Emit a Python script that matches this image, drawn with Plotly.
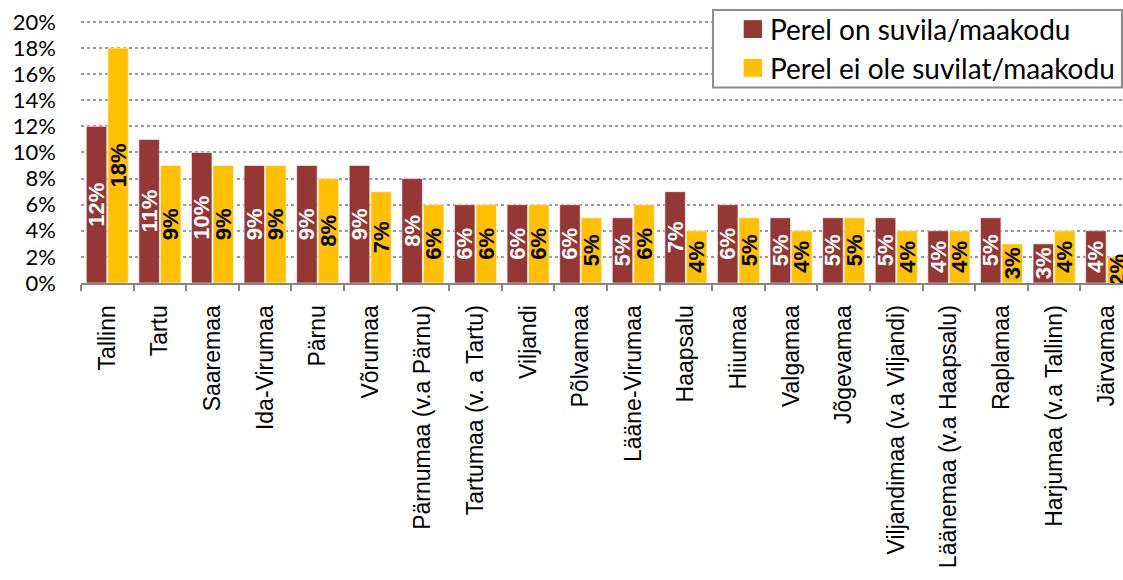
import plotly.graph_objects as go

# Regions and shares (%) of respondents
REGIONS = [
    'Tallinn', 'Tartu', 'Saaremaa', 'Ida-Virumaa', 'Pärnu', 'Võrumaa',
    'Pärnumaa (v.a Pärnu)', 'Tartumaa (v. a Tartu)', 'Viljandi', 'Põlvamaa',
    'Lääne-Virumaa', 'Haapsalu', 'Hiiumaa', 'Valgamaa', 'Jõgevamaa',
    'Viljandimaa (v.a Viljandi)', 'Läänemaa (v.a Haapsalu)', 'Raplamaa',
    'Harjumaa (v.a Tallinn)', 'Järvamaa',
]
HAS_SUMMER_HOME = [12, 11, 10, 9, 9, 9, 8, 6, 6, 6, 5, 7, 6, 5, 5, 5, 4, 5, 3, 4]
NO_SUMMER_HOME = [18, 9, 9, 9, 8, 7, 6, 6, 6, 5, 6, 4, 5, 4, 5, 4, 4, 3, 4, 2]

SERIES_NAMES = ['Perel on suvila/maakodu', 'Perel ei ole suvilat/maakodu']
Y_TICKS = [0, 2, 4, 6, 8, 10, 12, 14, 16, 18, 20]

MAROON = '#953735'
GOLD = '#FFC000'
GRID = '#9a9a9a'
AXIS = '#868686'


def bar_trace(values, name, color, text_color):
    return go.Bar(
        x=REGIONS, y=values, name=name,
        marker=dict(color=color, line=dict(color='rgba(255,255,255,0.6)', width=1)),
        text=[f'{v}%' for v in values],
        textposition='inside', insidetextanchor='middle', textangle=-90,
        constraintext='none',
        textfont=dict(family='Liberation Sans, Arial', size=22, color=text_color),
        texttemplate='<b>%{text}</b>',
        showlegend=False, hoverinfo='skip',
    )


fig = go.Figure([
    bar_trace(HAS_SUMMER_HOME, SERIES_NAMES[0], MAROON, 'white'),
    bar_trace(NO_SUMMER_HOME, SERIES_NAMES[1], GOLD, 'black'),
])

# ── Hand-drawn legend (larger swatches than plotly's built-in one) ──
fig.add_shape(type='rect', xref='paper', yref='paper',
              x0=0.6065, x1=0.999, y0=0.743, y1=1.038,
              line=dict(color='#8c8c8c', width=2), fillcolor='white', layer='above')
legend_rows = [(SERIES_NAMES[0], MAROON, 0.9655), (SERIES_NAMES[1], GOLD, 0.818)]
for label, color, yc in legend_rows:
    fig.add_shape(type='rect', xref='paper', yref='paper',
                  x0=0.636, x1=0.6535, y0=yc - 0.034, y1=yc + 0.034,
                  line=dict(width=0), fillcolor=color, layer='above')
    fig.add_annotation(xref='paper', yref='paper', x=0.659, y=yc,
                       text=label, showarrow=False, xanchor='left', yanchor='middle',
                       font=dict(family='Lato', size=28, color='black'))

fig.update_layout(
    width=1123, height=580,
    margin=dict(l=81, r=0, t=20, b=297),
    paper_bgcolor='white', plot_bgcolor='white',
    barmode='group', bargap=0.18, bargroupgap=0.05,
    uniformtext=dict(minsize=22, mode='show'),
    xaxis=dict(
        range=[-0.5, 19.31], showgrid=False, automargin=False,
        showline=True, linecolor=AXIS, linewidth=2,
        ticks='outside', tickson='boundaries', ticklen=6, tickcolor=AXIS, tickwidth=2,
        tickangle=-90, ticklabelstandoff=11,
        tickfont=dict(family='Liberation Sans, Arial', size=23, color='black'),
    ),
    yaxis=dict(
        # a little headroom so plotly keeps the 20% gridline (it drops lines at the very edge)
        range=[0, 20.15], tickvals=Y_TICKS,
        ticktext=[f'{t}%' for t in Y_TICKS], automargin=False,
        showgrid=True, gridcolor=GRID, gridwidth=1.5, griddash='dot',
        zeroline=False, showline=False, ticks='', ticklabelstandoff=24,
        tickfont=dict(family='Lato', size=22, color='black'),
    ),
)

# drop the browser's default 8px body margin so the figure fills the window
fig.write_html('out.html', config={'displayModeBar': False},
               post_script="document.body.style.margin='0';")
